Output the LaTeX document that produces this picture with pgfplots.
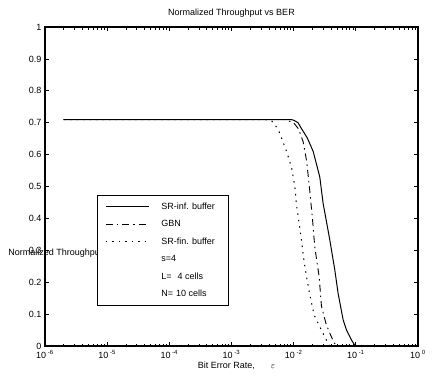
\documentclass[border=0pt]{standalone}
\usepackage{fontspec}
\setmainfont{Liberation Sans}
\usepackage{pgfplots}
\pgfplotsset{compat=1.18}
\usetikzlibrary{calc}
\newcommand{\ff}{\fontsize{9}{10.5}\selectfont}
\begin{document}
\begin{tikzpicture}
\begin{axis}[
  scale only axis, width=373pt, height=319pt,
  xmode=log, xmin=1e-6, xmax=1, ymin=0, ymax=1,
  xtick={1e-6,1e-5,1e-4,1e-3,1e-2,1e-1,1},
  xticklabels={10\textsuperscript{ -6},10\textsuperscript{ -5},10\textsuperscript{ -4},10\textsuperscript{ -3},10\textsuperscript{ -2},10\textsuperscript{ -1},10\textsuperscript{ 0}},
  ytick={0,0.1,0.2,0.3,0.4,0.5,0.6,0.7,0.8,0.9,1},
  yticklabels={0,0.1,0.2,0.3,0.4,0.5,0.6,0.7,0.8,0.9,1},
  tick align=inside, major tick length=4pt, minor tick length=2.5pt,
  axis line style={line width=1.2pt},
  every tick/.style={black, line width=0.7pt},
  font=\ff,
  tick label style={font=\ff},
  xticklabel style={yshift=-1pt},
  /pgf/number format/assume math mode=true,
  title={Normalized Throughput vs BER},
  title style={font=\ff, yshift=0pt},
  xlabel={Bit Error Rate,\hspace{16pt}$\varepsilon$},
  xlabel style={font=\ff, yshift=4pt, xshift=5pt},
  clip mode=individual,
  legend cell align=left,
  legend image code/.code={\draw[mark repeat=2,mark phase=2,#1] plot coordinates {(0pt,0pt) (21.5pt,0pt) (43pt,0pt)};},
  legend style={at={(0.139,0.473)}, anchor=north west, draw=black, line width=0.9pt, fill=white,
     font=\ff, row sep=5.6pt, column sep=10pt, inner xsep=8pt, inner ysep=5pt},
]
\coordinate (bl) at (rel axis cs:0,0);
\coordinate (tr) at (rel axis cs:1,1);
\node[anchor=west, font=\ff, inner sep=0pt] at (axis description cs:-0.099,0.29) {Normalized Throughput};
\addplot[black, line width=1pt] coordinates {
(2e-6,0.71) (0.008913,0.71) (0.01,0.708) (0.011749,0.70) (0.013490,0.68) (0.016596,0.652)
(0.020606,0.61) (0.026303,0.53) (0.029785,0.447) (0.038194,0.332) (0.045920,0.238)
(0.051880,0.165) (0.062517,0.082) (0.070795,0.05) (0.085114,0.019) (0.095499,0.003) (0.1,0) (1,0)};
\addlegendentry{SR-inf. buffer}
\addplot[black, line width=0.9pt, dash pattern=on 7pt off 4pt on 1.5pt off 4pt] coordinates {
(2e-6,0.71) (0.007079,0.71) (0.01,0.70) (0.012023,0.68) (0.014223,0.64) (0.016218,0.578)
(0.018197,0.485) (0.020137,0.395) (0.021878,0.31) (0.025704,0.217) (0.027990,0.125)
(0.033113,0.07) (0.038194,0.04) (0.044668,0.01) (0.050119,0) (1,0)};
\addlegendentry{GBN}
\addplot[black, line width=1pt, dash pattern=on 1.5pt off 5pt] coordinates {
(2e-6,0.71) (0.003467,0.71) (0.004467,0.705) (0.005623,0.68) (0.007691,0.61) (0.009247,0.56)
(0.010447,0.50) (0.011143,0.44) (0.012246,0.385) (0.013397,0.33) (0.014588,0.27)
(0.016106,0.217) (0.018197,0.16) (0.021380,0.097) (0.028708,0.045) (0.035481,0.01) (0.038194,0) (1,0)};
\addlegendentry{SR-fin. buffer\rule{3pt}{0pt}}
\addlegendimage{empty legend}
\addlegendentry{s=4}
\addlegendimage{empty legend}
\addlegendentry{L=\hspace{6pt}4 cells}
\addlegendimage{empty legend}
\addlegendentry{N=\hspace{3pt}10 cells}
\end{axis}
\pgfresetboundingbox
\path ($(bl)+(-45pt,-35pt)$) rectangle ($(tr)+(14pt,27pt)$);
\end{tikzpicture}
\end{document}
